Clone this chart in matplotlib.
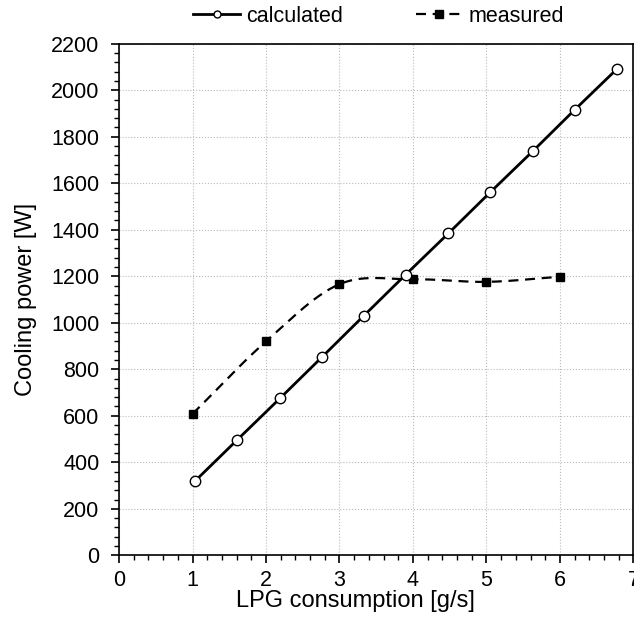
import numpy as np
import matplotlib
matplotlib.use("Agg")
import matplotlib.pyplot as plt
from matplotlib.ticker import MultipleLocator

plt.rcParams['font.family'] = ['Liberation Sans', 'DejaVu Sans']

calc_x = [1.03, 1.61, 2.19, 2.76, 3.33, 3.90, 4.48, 5.05, 5.63, 6.20, 6.78]
calc_y = [318, 497, 675, 852, 1030, 1207, 1384, 1561, 1738, 1916, 2093]
meas_x = [1, 2, 3, 4, 5, 6]
meas_y = [608, 920, 1166, 1187, 1176, 1198]

x_label = "LPG consumption [g/s]"
y_label = "Cooling power [W]"
legend_labels = ['calculated', 'measured']


def catmull_rom(xs, ys, n=30):
    pts = np.column_stack([xs, ys]).astype(float)
    P = np.vstack([pts[0] - (pts[1] - pts[0]), pts, pts[-1] + (pts[-1] - pts[-2])])
    out = []
    for i in range(1, len(P) - 2):
        p0, p1, p2, p3 = P[i - 1], P[i], P[i + 1], P[i + 2]
        t = np.linspace(0, 1, n)[:, None]
        seg = 0.5 * ((2 * p1) + (-p0 + p2) * t + (2 * p0 - 5 * p1 + 4 * p2 - p3) * t ** 2
                     + (-p0 + 3 * p1 - 3 * p2 + p3) * t ** 3)
        out.append(seg if i == 1 else seg[1:])
    out = np.vstack(out)
    return out[:, 0], out[:, 1]


DASH = (0, (4.5, 3))

fig = plt.figure(figsize=(6.34, 6.25), dpi=100)
ax = fig.add_axes([0.1877, 0.1115, 0.8115, 0.8185])

sx, sy = catmull_rom(meas_x, meas_y)
ax.plot(sx, sy, color='black', lw=1.6, ls=DASH, zorder=3)
ax.plot(meas_x, meas_y, ls='none', marker='s', ms=6, color='black', zorder=4)
ax.plot(calc_x, calc_y, color='black', lw=2, marker='o', ms=7.5,
        mfc='white', mec='black', mew=1, zorder=5)

# legend proxies
h1, = ax.plot([], [], color='black', lw=2, marker='o', ms=5, mfc='white', mec='black', mew=1)
h2, = ax.plot([], [], color='black', lw=1.6, ls=DASH, marker='s', ms=6)
fig.legend([h1, h2], legend_labels, loc='center left', bbox_to_anchor=(193 / 634, 0.974),
           ncol=2, frameon=False, fontsize=15.5, handlelength=2.2, handletextpad=0.25,
           columnspacing=3.4, borderpad=0, borderaxespad=0)

ax.set_xlim(0, 7)
ax.set_ylim(0, 2200)
ax.xaxis.set_major_locator(MultipleLocator(1))
ax.xaxis.set_minor_locator(MultipleLocator(0.2))
ax.yaxis.set_major_locator(MultipleLocator(200))
ax.yaxis.set_minor_locator(MultipleLocator(40))
ax.tick_params(which='major', direction='out', length=6, width=1.2, labelsize=15.5)
ax.tick_params(which='minor', direction='out', length=3.6, width=1)
ax.tick_params(axis='y', which='major', pad=8)
ax.tick_params(axis='x', which='major', pad=4.5)
ax.grid(True, which='major', color='#bbbbbb', ls=':', lw=0.8)
for s in ax.spines.values():
    s.set_linewidth(1.2)
ax.set_xlabel(x_label, fontsize=17, labelpad=-1)
ax.xaxis.label.set_x(0.4587)
ax.set_ylabel(y_label, fontsize=17)
ax.yaxis.set_label_coords(-0.159, 0.5)

fig.savefig("out.png", dpi=100)
